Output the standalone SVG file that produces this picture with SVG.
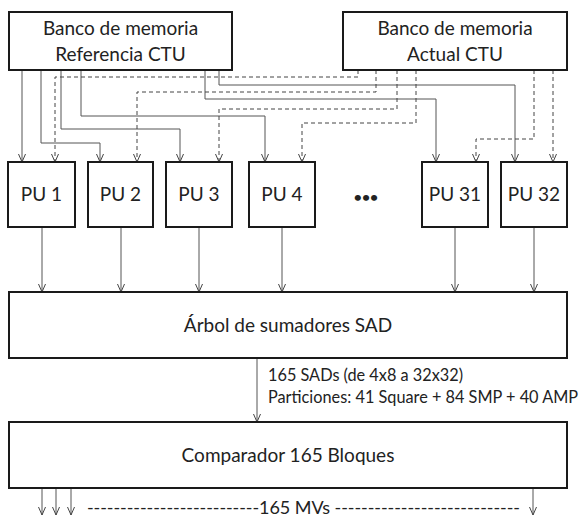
<svg xmlns="http://www.w3.org/2000/svg" width="586" height="522" viewBox="0 0 586 522">
<style>
.box{fill:#fff;stroke:#1a1a1a;stroke-width:2}
.t{font-family:Lato,"Open Sans",sans-serif;font-size:19px;fill:#222;text-anchor:middle}
.s{font-family:Lato,"Open Sans",sans-serif;font-size:16.3px;fill:#222}
.w{fill:none;stroke:#555;stroke-width:1;marker-end:url(#ah)}
.d{fill:none;stroke:#444;stroke-width:1;stroke-dasharray:4 3;marker-end:url(#ah)}
</style>
<defs>
<marker id="ah" markerUnits="userSpaceOnUse" markerWidth="10" markerHeight="10" viewBox="-9 -5 10 10" refX="0" refY="0" orient="auto">
<path d="M-8,-3.5 L0,0 L-8,3.5" fill="none" stroke="#444" stroke-width="1"/>
</marker>
</defs>
<g id="connectors">
<path class="w" d="M22,70 V162"/>
<path class="w" d="M41,70 V143 H100 V162"/>
<path class="w" d="M61,70 V129 H180 V162"/>
<path class="w" d="M81,70 V116 H265 V162"/>
<path class="w" d="M205,70 V99 H436 V162"/>
<path class="w" d="M219,70 V85 H515 V162"/>
<path class="d" d="M358,70 V77 H55 V162"/>
<path class="d" d="M376,70 V92 H137 V162"/>
<path class="d" d="M397,70 V109 H219 V162"/>
<path class="d" d="M416,70 V123 H302 V162"/>
<path class="d" d="M534,70 V139 H476 V162"/>
<path class="d" d="M553,70 V162"/>
<path class="w" d="M42,227 V292"/>
<path class="w" d="M121,227 V292"/>
<path class="w" d="M199,227 V292"/>
<path class="w" d="M282,227 V292"/>
<path class="w" d="M455,227 V292"/>
<path class="w" d="M534,227 V292"/>
<path class="w" d="M257,358 V422"/>
<path class="w" d="M42,488 V515"/>
<path class="w" d="M56,488 V515"/>
<path class="w" d="M71,488 V515"/>
<path class="w" d="M533,488 V515"/>
</g>
<g id="ref"><rect class="box" x="9" y="12" width="223" height="58"/><text class="t" x="120.5" y="35">Banco de memoria</text><text class="t" x="120.5" y="61">Referencia CTU</text></g>
<g id="act"><rect class="box" x="343" y="12" width="224" height="58"/><text class="t" x="455" y="35">Banco de memoria</text><text class="t" x="455" y="61">Actual CTU</text></g>
<g id="pu1"><rect class="box" x="8" y="162" width="67" height="65"/><text class="t" x="41.5" y="201">PU 1</text></g>
<g id="pu2"><rect class="box" x="88" y="162" width="65" height="65"/><text class="t" x="120.5" y="201">PU 2</text></g>
<g id="pu3"><rect class="box" x="166" y="162" width="66" height="65"/><text class="t" x="199" y="201">PU 3</text></g>
<g id="pu4"><rect class="box" x="249" y="162" width="66" height="65"/><text class="t" x="282" y="201">PU 4</text></g>
<g id="dots"><text class="t" x="366" y="202" style="font-weight:bold;font-size:14px">•••</text></g>
<g id="pu31"><rect class="box" x="422" y="162" width="66" height="65"/><text class="t" x="455" y="201">PU 31</text></g>
<g id="pu32"><rect class="box" x="501" y="162" width="66" height="65"/><text class="t" x="534" y="201">PU 32</text></g>
<g id="sad"><rect class="box" x="9" y="292" width="558" height="66"/><text class="t" x="288" y="332">Árbol de sumadores SAD</text></g>
<g id="lbl"><text class="s" x="268" y="381">165 SADs (de 4x8 a 32x32)</text><text class="s" x="268" y="403">Particiones: 41 Square + 84 SMP + 40 AMP</text></g>
<g id="cmp"><rect class="box" x="9" y="422" width="558" height="66"/><text class="t" x="288" y="462">Comparador 165 Bloques</text></g>
<g id="mvs"><text class="s" x="87" y="514" style="font-size:18px" textLength="433" lengthAdjust="spacing">--------------------------165 MVs ----------------------------</text></g>
</svg>
